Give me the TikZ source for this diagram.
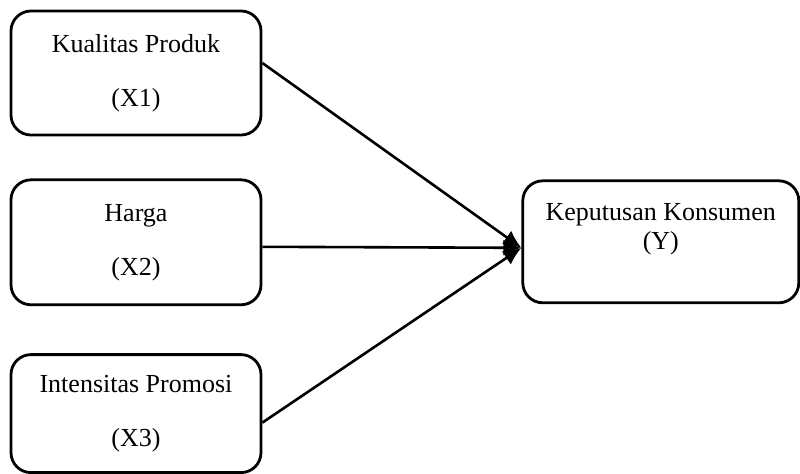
\documentclass[tikz,border=0pt]{standalone}
\usepackage{fontspec}
\setmainfont{Liberation Serif}
\usepackage{tikz}
\usepackage{xcolor}
\usetikzlibrary{arrows.meta,positioning}
\definecolor{ink}{HTML}{000000}
\tikzset{
  varbox/.style={
    rectangle, rounded corners=10pt, draw=ink, line width=1.4pt,
    fill=white, minimum width=125pt, minimum height=#1,
    font=\fontsize{13}{14.5}\selectfont, align=center,
    inner sep=3pt
  },
  varbox/.default=62pt,
  varlabel/.style={
    font=\fontsize{13}{14.5}\selectfont, align=center, inner sep=3pt
  },
  pathline/.style={
    -{Latex[length=9pt, width=8pt]}, line width=1.3pt, color=ink
  },
}

\begin{document}
\begin{tikzpicture}
\useasboundingbox (-68pt,36.5pt) rectangle (332pt,-200pt);
% Independent variables
\node[varbox] (kp) at (0,0) {Kualitas Produk\\[12.5pt](X1)};
\node[varbox=62.5pt, below=21pt of kp] (hg) {Harga\\[12.5pt](X2)};
\node[varbox=59pt, below=23.5pt of hg] (ip) {Intensitas Promosi\\[12.5pt](X3)};

% Dependent variable
\node[varbox=61pt, minimum width=138pt, right=129.5pt of hg, yshift=0.25pt] (kk) {};
\node[varlabel, anchor=north] (kk-text) at ([yshift=-9pt]kk.north) {Keputusan Konsumen\\(Y)};

% Paths
\draw[pathline] ([yshift=5pt]kp.east) -- ([yshift=-3pt]kk.west);
\draw[pathline] ([yshift=-2.25pt]hg.east) -- ([yshift=-3pt]kk.west);
\draw[pathline] ([yshift=-4.5pt]ip.east) -- ([yshift=-3pt]kk.west);
\end{tikzpicture}
\end{document}
